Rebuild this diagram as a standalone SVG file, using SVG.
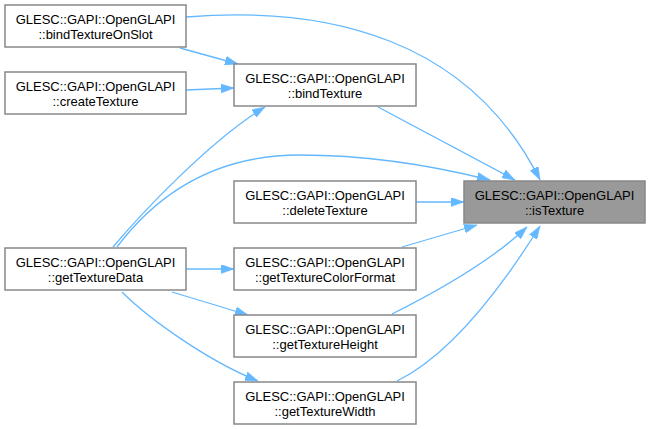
<svg xmlns="http://www.w3.org/2000/svg" width="651" height="429" viewBox="0 0 651 429">
<style>
.n rect{fill:#ffffff;stroke:#888888;stroke-width:1.5}
.n.hl rect{fill:#999999}
.n text{font-family:"Liberation Sans",Arial,sans-serif;font-size:13px;fill:#000000;text-anchor:middle}
.e path{fill:none;stroke:#63b8ff;stroke-width:1.3;marker-end:url(#ah)}
</style>
<defs>
<marker id="ah" viewBox="0 0 13 9" refX="13" refY="4.5" markerWidth="13" markerHeight="9" markerUnits="userSpaceOnUse" orient="auto">
<path d="M0,0 L13,4.5 L0,9 z" fill="#63b8ff" stroke="#63b8ff" stroke-width="0.5"/>
</marker>
</defs>
<g id="connectors" class="e">
<path d="M186,17 C330,5 470,40 540,180"/>
<path d="M180,48 L238,64"/>
<path d="M186,90 L234,88"/>
<path d="M378,107 L515,180"/>
<path d="M113,247 C140,215 210,140 265,107"/>
<path d="M117,247 C160,190 220,155 300,155 C370,155 430,165 490,180"/>
<path d="M416,202 L464,202"/>
<path d="M186,269 L234,269"/>
<path d="M402,247 L477,225"/>
<path d="M172,292 L248,315"/>
<path d="M392,314 C430,295 490,262 527,227"/>
<path d="M122,292 C150,320 210,362 258,381"/>
<path d="M397,381 C450,355 500,290 540,226"/>
</g>
<g id="bindTextureOnSlot" class="n"><rect x="5" y="5" width="181" height="42"/><text x="95.5" y="24">GLESC::GAPI::OpenGLAPI</text><text x="95.5" y="39">::bindTextureOnSlot</text></g>
<g id="createTexture" class="n"><rect x="5" y="72" width="181" height="42"/><text x="95.5" y="91">GLESC::GAPI::OpenGLAPI</text><text x="95.5" y="106">::createTexture</text></g>
<g id="getTextureData" class="n"><rect x="5" y="248" width="181" height="42"/><text x="95.5" y="267">GLESC::GAPI::OpenGLAPI</text><text x="95.5" y="282">::getTextureData</text></g>
<g id="bindTexture" class="n"><rect x="234" y="64" width="182" height="42"/><text x="325" y="83">GLESC::GAPI::OpenGLAPI</text><text x="325" y="98">::bindTexture</text></g>
<g id="deleteTexture" class="n"><rect x="234" y="181" width="182" height="42"/><text x="325" y="200">GLESC::GAPI::OpenGLAPI</text><text x="325" y="215">::deleteTexture</text></g>
<g id="getTextureColorFormat" class="n"><rect x="234" y="248" width="182" height="42"/><text x="325" y="267">GLESC::GAPI::OpenGLAPI</text><text x="325" y="282">::getTextureColorFormat</text></g>
<g id="getTextureHeight" class="n"><rect x="234" y="315" width="182" height="42"/><text x="325" y="334">GLESC::GAPI::OpenGLAPI</text><text x="325" y="349">::getTextureHeight</text></g>
<g id="getTextureWidth" class="n"><rect x="234" y="382" width="182" height="42"/><text x="325" y="401">GLESC::GAPI::OpenGLAPI</text><text x="325" y="416">::getTextureWidth</text></g>
<g id="isTexture" class="n hl"><rect x="464" y="181" width="181" height="42"/><text x="554.5" y="200">GLESC::GAPI::OpenGLAPI</text><text x="554.5" y="215">::isTexture</text></g>
</svg>
